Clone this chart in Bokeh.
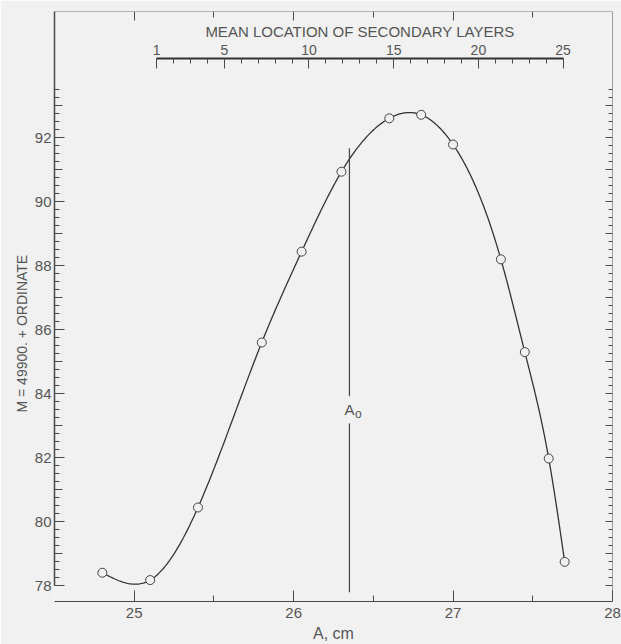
import numpy as np
from bokeh.plotting import figure
from bokeh.models import Range1d, LinearAxis, FixedTicker, Title
from bokeh.core.properties import value
from bokeh.embed import file_html
from bokeh.resources import INLINE

# ---------------- data ----------------
A_cm = [24.80, 25.10, 25.40, 25.80, 26.05, 26.30, 26.60, 26.80, 27.00, 27.30, 27.45, 27.60, 27.70]
M_ordinate = [78.40, 78.17, 80.44, 85.60, 88.44, 90.94, 92.61, 92.72, 91.79, 88.20, 85.30, 81.97, 78.74]

x_major_ticks = [25, 26, 27, 28]
x_half_ticks = [25.5, 26.5, 27.5]
top_int_ticks = [25, 26, 27]
y_label_ticks = [78, 80, 82, 84, 86, 88, 90, 92]
y_odd_ticks = [79, 81, 83, 85, 87, 89, 91, 93]
y_int_ticks = list(range(78, 94))
y_quarter_ticks = [78 + 0.25 * i for i in range(63)]  # 78 .. 93.5
layer_ticks = [1, 5, 10, 15, 20, 25]
layer_minor_ticks = list(range(1, 26))

LAYER_1_AT_A = 25.14     # A (cm) under layer 1
LAYER_25_AT_A = 27.69    # A (cm) under layer 25
A0 = 26.35               # marked A_o

# ---------------- layout / style constants ----------------
X_START, X_END = 24.5, 28.0
Y_START, Y_END = 77.5, 95.95
LAYER_AXIS_Y = 94.47
A0_LINE_TOP, A0_LINE_BOTTOM = 91.67, 77.79
A0_GAP_TOP, A0_GAP_BOTTOM = 83.92, 83.07
A0_LABEL_Y = 83.5
Y_TITLE_OFFSET = 189

BG = "#f1f1f1"
INK = "#4a4a4a"
TXT = "#555555"
FONT = "Liberation Sans"


def natural_spline(x, y, per_seg=40):
    x = np.asarray(x, float)
    y = np.asarray(y, float)
    n = len(x)
    h = np.diff(x)
    mat = np.zeros((n, n))
    rhs = np.zeros(n)
    mat[0, 0] = 1.0
    mat[-1, -1] = 1.0
    for i in range(1, n - 1):
        mat[i, i - 1] = h[i - 1]
        mat[i, i] = 2 * (h[i - 1] + h[i])
        mat[i, i + 1] = h[i]
        rhs[i] = 6 * ((y[i + 1] - y[i]) / h[i] - (y[i] - y[i - 1]) / h[i - 1])
    m2 = np.linalg.solve(mat, rhs)
    xs, ys = [], []
    for i in range(n - 1):
        t = np.linspace(x[i], x[i + 1], per_seg, endpoint=(i == n - 2))
        a = x[i + 1] - t
        b = t - x[i]
        s = (m2[i] * a ** 3 / (6 * h[i]) + m2[i + 1] * b ** 3 / (6 * h[i])
             + (y[i] / h[i] - m2[i] * h[i] / 6) * a
             + (y[i + 1] / h[i] - m2[i + 1] * h[i] / 6) * b)
        xs.extend(t.tolist())
        ys.extend(s.tolist())
    return xs, ys


p = figure(width=621, height=644,
           x_range=Range1d(X_START, X_END), y_range=Range1d(Y_START, Y_END),
           output_backend="svg", toolbar_location=None,
           min_border_left=54, min_border_right=9, min_border_top=11, min_border_bottom=43,
           background_fill_color=BG, border_fill_color=BG, outline_line_color=None)
p.xgrid.visible = False
p.ygrid.visible = False


def style_axis(ax, tick_in, minor_in, width=1.0, line_color=INK):
    ax.axis_line_color = line_color
    ax.axis_line_width = width
    ax.major_tick_line_color = INK
    ax.minor_tick_line_color = INK
    ax.major_tick_in = tick_in
    ax.major_tick_out = 0
    ax.minor_tick_in = minor_in
    ax.minor_tick_out = 0
    ax.major_label_text_color = TXT
    ax.major_label_text_font = FONT
    ax.axis_label_text_color = TXT
    ax.axis_label_text_font = FONT
    ax.axis_label_text_font_style = "normal"


def tick_only_axis(ticks, length, location, line_color=None, width=1.0, **kw):
    ax = LinearAxis(ticker=FixedTicker(ticks=[], minor_ticks=ticks), fixed_location=location, **kw)
    style_axis(ax, 0, length, width, line_color)
    return ax


# bottom axis
xa = p.xaxis[0]
xa.ticker = FixedTicker(ticks=x_major_ticks, minor_ticks=x_half_ticks)
style_axis(xa, 11, 6)
xa.major_label_text_font_size = "15px"
xa.major_label_standoff = 6
xa.axis_label = "A, cm"
xa.axis_label_text_font_size = "16px"
xa.axis_label_standoff = 4

# left axis (labels at even values, quarter ticks)
ya = p.yaxis[0]
ya.ticker = FixedTicker(ticks=y_label_ticks, minor_ticks=y_quarter_ticks)
style_axis(ya, 10, 5, 1.5)
ya.bounds = (78, Y_END)
ya.major_label_text_font_size = "15px"
ya.major_label_standoff = 3

# left: odd-value ticks
p.add_layout(tick_only_axis(y_odd_ticks, 8, X_START), "left")

# y title, placed a little below the middle as in the original
p.add_layout(Title(text="M = 49900. + ORDINATE", align="left", offset=Y_TITLE_OFFSET,
                   text_font=FONT, text_font_size="14px", text_font_style="normal",
                   text_color=TXT, standoff=4), "left")

# top frame line with ticks
p.add_layout(tick_only_axis(top_int_ticks, 9, Y_END, line_color="#777777"), "above")
p.add_layout(tick_only_axis(x_half_ticks, 6, Y_END), "above")

# right frame line with ticks
p.add_layout(tick_only_axis(y_quarter_ticks, 4, X_END, line_color=INK), "right")
p.add_layout(tick_only_axis(y_int_ticks, 7, X_END), "right")

# secondary scale: mean location of secondary layers
per_layer = (LAYER_25_AT_A - LAYER_1_AT_A) / 24.0
p.extra_x_ranges = {"layers": Range1d(1 + (X_START - LAYER_1_AT_A) / per_layer,
                                      1 + (X_END - LAYER_1_AT_A) / per_layer)}
la = LinearAxis(x_range_name="layers", fixed_location=LAYER_AXIS_Y, bounds=(1, 25),
                ticker=FixedTicker(ticks=layer_ticks, minor_ticks=layer_minor_ticks),
                axis_label="MEAN LOCATION OF SECONDARY LAYERS")
style_axis(la, 10, 5, 2.0, "#333333")
la.major_label_text_font_size = "14px"
la.major_label_standoff = 4
la.axis_label_text_font_size = "15px"
la.axis_label_standoff = 2
p.add_layout(la, "above")

# smooth curve and points
cx, cy = natural_spline(A_cm, M_ordinate)
p.line(cx, cy, line_color="#333333", line_width=1.3)
p.scatter(A_cm, M_ordinate, marker="circle", size=9, fill_color=BG,
          line_color="#444444", line_width=1)

# A_o marker line with label
p.segment(x0=[A0, A0], y0=[A0_LINE_BOTTOM, A0_GAP_TOP], x1=[A0, A0], y1=[A0_GAP_BOTTOM, A0_LINE_TOP],
          line_color="#444444", line_width=1.2)
p.text(x=[A0], y=[A0_LABEL_Y], text=["A"], text_align="center", text_baseline="middle",
       text_font=value(FONT), text_font_size="15px", text_color=TXT)
p.text(x=[A0], y=[A0_LABEL_Y], text=["o"], x_offset=9, y_offset=4, text_align="center",
       text_baseline="middle", text_font=value(FONT), text_font_size="12px", text_color=TXT)

open("out.html", "w").write(file_html(p, INLINE))
